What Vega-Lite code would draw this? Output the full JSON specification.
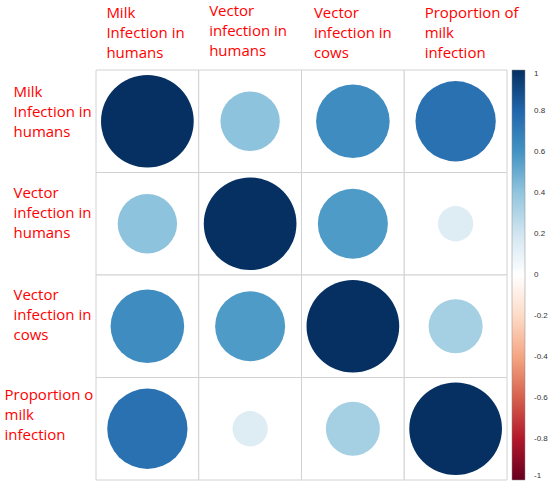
{
  "$schema": "https://vega.github.io/schema/vega-lite/v6.json",
  "autosize": "none",
  "padding": {"left": 96, "top": 70, "right": 43, "bottom": 9},
  "width": 411,
  "height": 410,
  "background": "white",
  "config": {"view": {"stroke": null}},
  "data": {"values": [
    {"row": "Milk Infection in humans", "col": "Milk Infection in humans", "r": 1},
    {"row": "Milk Infection in humans", "col": "Vector infection in humans", "r": 0.41},
    {"row": "Milk Infection in humans", "col": "Vector infection in cows", "r": 0.63},
    {"row": "Milk Infection in humans", "col": "Proportion of milk infection", "r": 0.75},
    {"row": "Vector infection in humans", "col": "Milk Infection in humans", "r": 0.41},
    {"row": "Vector infection in humans", "col": "Vector infection in humans", "r": 1},
    {"row": "Vector infection in humans", "col": "Vector infection in cows", "r": 0.57},
    {"row": "Vector infection in humans", "col": "Proportion of milk infection", "r": 0.145},
    {"row": "Vector infection in cows", "col": "Milk Infection in humans", "r": 0.63},
    {"row": "Vector infection in cows", "col": "Vector infection in humans", "r": 0.57},
    {"row": "Vector infection in cows", "col": "Vector infection in cows", "r": 1},
    {"row": "Vector infection in cows", "col": "Proportion of milk infection", "r": 0.34},
    {"row": "Proportion of milk infection", "col": "Milk Infection in humans", "r": 0.75},
    {"row": "Proportion of milk infection", "col": "Vector infection in humans", "r": 0.145},
    {"row": "Proportion of milk infection", "col": "Vector infection in cows", "r": 0.34},
    {"row": "Proportion of milk infection", "col": "Proportion of milk infection", "r": 1}
  ]},
  "encoding": {
    "x": {
      "field": "col", "type": "nominal",
      "sort": ["Milk Infection in humans", "Vector infection in humans", "Vector infection in cows", "Proportion of milk infection"],
      "scale": {"paddingInner": 0, "paddingOuter": 0},
      "axis": {
        "orient": "top", "title": null, "domain": false, "ticks": false, "tickSize": 0, "grid": false,
        "labelAngle": 0,
        "labelAlign": "left",
        "labelBaseline": "bottom",
        "labelPadding": {"expr": "datum.value == 'Vector infection in humans' ? 52 : 50"},
        "labelOffset": {"expr": "datum.value == 'Proportion of milk infection' ? -31 : datum.value == 'Vector infection in cows' ? -39 : -41"},
        "labelFont": "Open Sans", "labelFontSize": 15, "labelColor": "#FF0000", "labelLineHeight": 20,
        "labelLimit": 0,
        "labelExpr": "datum.value == 'Milk Infection in humans' ? ['Milk', 'Infection in', 'humans'] : datum.value == 'Vector infection in humans' ? ['Vector', 'infection in', 'humans'] : datum.value == 'Vector infection in cows' ? ['Vector', 'infection in', 'cows'] : ['Proportion of', 'milk', 'infection']"
      }
    },
    "y": {
      "field": "row", "type": "nominal",
      "sort": ["Milk Infection in humans", "Vector infection in humans", "Vector infection in cows", "Proportion of milk infection"],
      "scale": {"paddingInner": 0, "paddingOuter": 0},
      "axis": {
        "title": null, "domain": false, "ticks": false, "tickSize": 0, "grid": false,
        "labelAlign": "left",
        "labelBaseline": "middle",
        "labelPadding": {"expr": "datum.value == 'Proportion of milk infection' ? 92 : 83"},
        "labelOffset": {"expr": "datum.value == 'Milk Infection in humans' ? -29 : datum.value == 'Vector infection in humans' ? -30.5 : datum.value == 'Vector infection in cows' ? -31 : -34"},
        "labelFont": "Open Sans", "labelFontSize": 15, "labelColor": "#FF0000", "labelLineHeight": 20,
        "labelLimit": 0,
        "labelExpr": "datum.value == 'Milk Infection in humans' ? ['Milk', 'Infection in', 'humans'] : datum.value == 'Vector infection in humans' ? ['Vector', 'infection in', 'humans'] : datum.value == 'Vector infection in cows' ? ['Vector', 'infection in', 'cows'] : ['Proportion o', 'milk', 'infection']"
      }
    }
  },
  "layer": [
    {
      "mark": {"type": "rect", "fill": "white", "stroke": "#d2d2d2", "strokeWidth": 1}
    },
    {
      "mark": {"type": "circle", "opacity": 1},
      "encoding": {
        "size": {"field": "r", "type": "quantitative", "scale": {"type": "linear", "domain": [0, 1], "range": [0, 8593]}, "legend": null},
        "color": {
          "field": "r", "type": "quantitative",
          "scale": {
            "type": "linear",
            "domain": [-1, -0.8, -0.6, -0.4, -0.2, 0, 0.2, 0.4, 0.6, 0.8, 1],
            "range": ["#67001F", "#B2182B", "#D6604D", "#F4A582", "#FDDBC7", "#FFFFFF", "#D1E5F0", "#92C5DE", "#4393C3", "#2166AC", "#053061"],
            "interpolate": "rgb"
          },
          "legend": {
            "title": null,
            "orient": "right",
            "direction": "vertical",
            "offset": 5,
            "padding": 0,
            "gradientLength": 410,
            "gradientThickness": 13,
            "gradientStrokeColor": "#888888",
            "gradientStrokeWidth": 0.5,
            "values": [1, 0.8, 0.6, 0.4, 0.2, 0, -0.2, -0.4, -0.6, -0.8, -1],
            "labelOverlap": false,
            "labelOffset": 9,
            "labelFont": "Liberation Sans",
            "labelFontSize": 8,
            "labelColor": "#333333",
            "labelExpr": "'' + datum.value"
          }
        }
      }
    }
  ]
}
